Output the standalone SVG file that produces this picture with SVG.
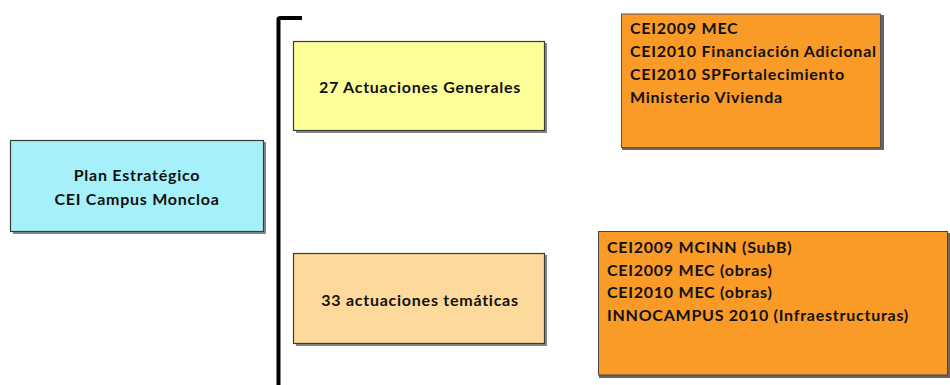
<svg xmlns="http://www.w3.org/2000/svg" width="950" height="385" viewBox="0 0 950 385">
<style>
.box{stroke:#3a3a3a;stroke-width:1.2}
.sh{fill:#555;opacity:0.7}
.t{font-family:Lato,"Open Sans","Liberation Sans",sans-serif;font-weight:bold;font-size:16px;letter-spacing:0.75px;fill:#111}
.c{text-anchor:middle}
</style>
<rect width="950" height="385" fill="#fff"/>
<g id="connectors">
<path d="M278.5,385 V19 Q278.5,18 281,18 H302" fill="none" stroke="#000" stroke-width="4"/>
</g>
<g id="plan">
<rect class="sh" x="13" y="142" width="253" height="92"/>
<rect class="box" x="10.5" y="140.5" width="253" height="91" fill="#a6f0f9"/>
<text class="t c" x="137" y="181">Plan Estratégico</text>
<text class="t c" x="137" y="205">CEI Campus Moncloa</text>
</g>
<g id="generales">
<rect class="sh" x="296" y="43" width="251" height="90"/>
<rect class="box" x="293.5" y="41.5" width="251" height="89" fill="#ffff99"/>
<text class="t c" x="420" y="93">27 Actuaciones Generales</text>
</g>
<g id="tematicas">
<rect class="sh" x="296" y="255" width="251" height="91"/>
<rect class="box" x="293.5" y="253.5" width="251" height="90" fill="#fdd99b"/>
<text class="t c" x="420" y="306">33 actuaciones temáticas</text>
</g>
<g id="lista1">
<rect x="622" y="15" width="262" height="135" fill="#666"/>
<rect x="621.5" y="14" width="259" height="133.5" fill="#fa9a27" stroke="#555" stroke-width="1"/>
<text class="t" x="630" y="34">CEI2009 MEC</text>
<text class="t" x="630" y="57">CEI2010 Financiación Adicional</text>
<text class="t" x="630" y="80">CEI2010 SPFortalecimiento</text>
<text class="t" x="630" y="103">Ministerio Vivienda</text>
</g>
<g id="lista2">
<rect x="599" y="233" width="351" height="145" fill="#666"/>
<rect x="598.5" y="231.5" width="349" height="143.5" fill="#fa9a27" stroke="#444" stroke-width="1"/>
<text class="t" x="607" y="253">CEI2009 MCINN (SubB)</text>
<text class="t" x="607" y="276">CEI2009 MEC (obras)</text>
<text class="t" x="607" y="298">CEI2010 MEC (obras)</text>
<text class="t" x="607" y="321">INNOCAMPUS 2010 (Infraestructuras)</text>
</g>
</svg>
